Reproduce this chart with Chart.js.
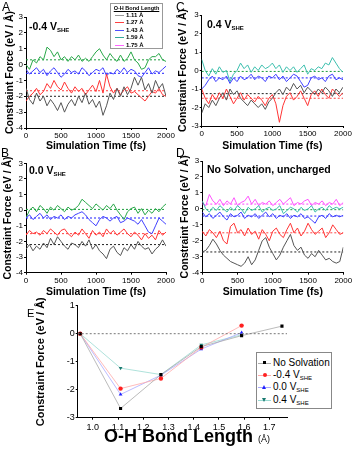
<!DOCTYPE html>
<html>
<head>
<meta charset="utf-8">
<script src="https://cdn.jsdelivr.net/npm/chart.js@4.4.1/dist/chart.umd.min.js"></script>
<style>
  body { margin:0; width:354px; height:450px; background:#fff; position:relative; overflow:hidden;
         font-family:"Liberation Sans", Arial, sans-serif; color:#000; }
  canvas { position:absolute; }
  .txt { position:absolute; white-space:nowrap; line-height:1; }
  .letter { font-size:12px; }
  .tag { font-size:10.5px; font-weight:bold; }
  .tag sub, .leg sub { font-size:6px; vertical-align:-2px; }
  .box { position:absolute; border:1px solid #999; box-sizing:border-box; background:#fff; }
  .legA { font-size:6px; font-weight:bold; }
</style>
</head>
<body>
<canvas id="cA" width="175" height="152" style="left:0;top:0"></canvas>
<canvas id="cC" width="179" height="152" style="left:175px;top:0"></canvas>
<canvas id="cB" width="175" height="148" style="left:0;top:150px"></canvas>
<canvas id="cD" width="179" height="148" style="left:175px;top:150px"></canvas>
<canvas id="cE" width="334" height="154" style="left:20px;top:296px"></canvas>

<div class="txt letter" style="left:2px;top:1px">A</div>
<div class="txt letter" style="left:176px;top:1px">C</div>
<div class="txt letter" style="left:1px;top:147px">B</div>
<div class="txt letter" style="left:176px;top:147px">D</div>
<div class="txt" style="left:27px;top:308px;font-size:11px">E</div>

<div class="txt tag" style="left:29px;top:21px">-0.4 V<sub>SHE</sub></div>
<div class="txt tag" style="left:207px;top:19px">0.4 V<sub>SHE</sub></div>
<div class="txt tag" style="left:29px;top:165px">0.0 V<sub>SHE</sub></div>
<div class="txt tag" style="left:207px;top:164px">No Solvation, uncharged</div>

<div class="txt" style="left:104px;top:427px;font-size:18px;font-weight:bold">O-H Bond Length <span style="font-size:9px;font-weight:normal">(Å)</span></div>

<div id="legA" class="box" style="left:110px;top:3px;width:53px;height:46px"></div>
<div id="legE" class="box" style="left:256px;top:352px;width:76px;height:57px;border-color:#888"></div>

<script>
const FONT = "'Liberation Sans', Arial, sans-serif";

/* =========================
   DATA - time traces
========================= */
const time = [0,50,100,150,200,250,300,350,400,450,500,550,600,650,700,750,800,850,900,950,
  1000,1050,1100,1150,1200,1250,1300,1350,1400,1450,1500,1550,1600,1650,1700,1750,1800,1850,1900,1950,2000];
const timeTicks = [0,500,1000,1500,2000];
const forceTicks = [-4,-3,-2,-1,0,1,2,3];
const forceTicksC = [-3,-2,-1,0,1,2,3];

const bondLabels = ["1.11 Å","1.27 Å","1.43 Å","1.59 Å","1.75 Å"];

// A: -0.4 V
const a111 = [-1.5,-2.2,-2.5,-1.8,-2.3,-2.0,-2.6,-2.2,-2.5,-2.9,-2.4,-3.0,-2.5,-2.2,-2.6,-2.0,-2.4,-1.8,-2.5,-2.2,
  -2.7,-2.3,-3.2,-2.6,-1.8,-2.2,-1.5,-2.0,-1.4,-1.9,-1.5,-0.8,-1.3,-0.8,-1.6,-1.2,-1.8,-1.0,-1.5,-1.2,-2.0];
const a127 = [-2.3,-2.0,-1.8,-1.5,-1.9,-1.7,-1.2,-1.5,-1.0,-1.4,-1.6,-1.1,-1.5,-1.8,-1.4,-1.7,-1.5,-1.9,-1.6,-1.3,
  -1.7,-1.0,-1.8,-0.6,-1.4,-1.8,-1.5,-1.9,-1.6,-1.4,-1.8,-1.7,-1.9,-2.1,-2.3,-2.0,-1.7,-1.8,-1.5,-1.9,-2.0];
const a143 = [-0.3,-0.6,-0.4,-0.2,-0.5,-0.3,-0.7,-0.4,-0.2,-0.5,-0.8,-0.6,-0.3,-0.5,-0.4,-0.6,-0.2,-0.4,-0.7,-0.5,
  -0.3,-0.4,-0.2,-0.7,-0.5,-0.6,-0.3,-0.5,-0.2,-0.5,-0.3,-0.4,-0.7,-0.8,-0.5,-0.2,-0.6,-0.4,-0.5,-0.3,-0.1];
const a159 = [0.0,-0.3,0.3,0.1,0.5,0.3,1.1,0.9,0.5,0.8,0.3,0.5,0.2,0.5,0.3,0.6,0.2,0.4,0.2,0.5,
  0.8,1.0,0.6,0.3,0.7,0.4,0.2,0.6,0.2,0.4,0.8,0.3,0.1,-0.3,-0.2,0.3,0.5,0.5,0.7,0.3,0.2];
const meansA = [-2.0,-1.65,-0.55,0.3];

// B: 0.0 V
const b111 = [-2.5,-2.2,-2.6,-2.3,-2.5,-2.1,-2.4,-1.8,-2.2,-1.7,-2.0,-2.3,-2.5,-2.1,-2.2,-2.4,-2.0,-2.3,-1.9,-2.5,
  -2.2,-2.6,-2.8,-3.1,-2.5,-2.3,-2.7,-2.9,-2.4,-2.6,-2.2,-2.5,-2.0,-2.3,-2.5,-2.4,-2.8,-2.5,-2.3,-1.9,-2.3];
const b127 = [-1.6,-1.3,-1.5,-1.4,-1.6,-1.3,-1.5,-1.2,-1.4,-1.6,-1.3,-1.2,-1.5,-1.7,-1.4,-1.6,-1.2,-1.5,-1.8,-1.3,
  -1.6,-1.4,-1.7,-1.2,-1.5,-1.3,-1.6,-1.4,-1.2,-1.5,-1.7,-1.4,-1.6,-1.9,-1.5,-1.8,-1.6,-1.9,-1.3,-1.6,-1.4];
const b143 = [-0.5,-0.3,-0.6,-0.4,-0.2,-0.5,-0.3,-0.6,-0.4,-0.5,-0.3,-0.6,-0.4,-0.5,-0.3,-0.2,-0.1,-0.3,-0.6,-0.8,
  -1.0,-0.6,-0.4,-0.5,-0.7,-0.5,-0.4,-0.8,-0.7,-0.5,-0.6,-0.7,-0.9,-0.6,-1.0,-1.4,-1.5,-1.0,-0.5,-0.7,-0.9];
const b159 = [-0.5,0.0,0.2,-0.1,0.3,0.1,-0.2,0.2,0.0,0.3,0.1,-0.1,0.2,0.0,0.1,0.3,0.7,0.5,0.3,0.1,
  0.4,0.2,0.0,0.3,0.1,0.4,0.0,-0.3,-0.6,-0.1,0.1,0.2,-0.2,0.1,-0.3,0.0,-0.2,0.1,-0.1,0.2,0.4];
const meansB = [-2.2,-1.5,-0.5,0.05];

// C: 0.4 V
const c111 = [-2.3,-1.8,-2.0,-1.6,-1.9,-1.5,-1.2,-1.6,-1.0,-1.3,-1.1,-1.5,-1.7,-1.9,-1.6,-1.8,-2.0,-1.8,-2.1,-1.7,
  -1.5,-1.2,-1.0,-1.3,-0.9,-1.1,-0.7,-1.0,-0.8,-1.2,-0.9,-1.1,-1.3,-1.0,-1.2,-0.9,-1.1,-1.4,-1.0,-1.2,-0.9];
const c127 = [-1.0,-1.5,-1.8,-1.3,-1.6,-1.2,-1.5,-1.0,-1.4,-1.8,-1.5,-1.2,-1.6,-1.3,-1.5,-1.7,-1.4,-1.6,-1.9,-1.5,
  -1.3,-1.8,-2.8,-1.9,-1.4,-1.2,-1.6,-1.4,-1.1,-1.5,-1.9,-1.3,-1.1,-1.4,-1.0,-1.3,-1.5,-1.0,-1.2,-1.4,-1.2];
const c143 = [-1.0,-0.8,-0.5,-0.3,-0.6,-0.4,-0.5,-0.3,-0.7,-0.4,-0.6,-0.3,-0.5,-0.4,-0.2,-0.5,-0.3,-0.4,-0.6,-0.3,
  -0.4,-0.2,-0.5,-0.3,-0.6,-0.4,-0.2,-0.3,-0.6,-0.9,-0.8,-0.4,-0.3,-0.5,-0.4,-0.6,-0.3,-0.2,-0.5,-0.4,-0.5];
const c159 = [0.6,0.0,-0.3,0.1,-0.2,0.2,-0.1,0.0,-0.6,-0.2,0.0,0.4,0.1,0.3,-0.1,0.2,0.0,0.3,0.1,0.2,
  0.4,0.1,0.3,-0.1,0.2,0.0,0.2,-0.1,0.1,0.3,-0.2,0.1,0.0,0.2,0.1,0.4,0.3,0.7,0.4,0.1,-0.1];
const meansC = [-1.25,-1.5,-0.4,-0.05];

// D: no solvation
const d111 = [-2.7,-2.6,-2.3,-1.9,-2.2,-2.6,-2.9,-3.1,-3.3,-3.4,-3.5,-3.6,-3.4,-3.0,-3.5,-3.2,-2.6,-2.0,-1.8,-2.4,
  -2.8,-3.2,-2.9,-2.4,-2.0,-1.6,-2.3,-2.6,-2.4,-2.9,-3.1,-2.8,-3.0,-2.6,-2.9,-3.2,-3.1,-3.3,-3.4,-3.3,-2.4];
const d127 = [-1.4,-1.7,-1.3,-1.5,-1.8,-1.4,-2.0,-2.2,-1.1,-0.9,-1.5,-1.3,-1.7,-1.2,-1.6,-1.4,-1.9,-1.3,-1.6,-2.0,
  -1.4,-1.2,-1.6,-1.8,-1.3,-0.9,-1.5,-1.2,-1.7,-1.4,-0.9,-1.3,-1.6,-1.4,-1.2,-1.8,-1.5,-1.0,-1.3,-1.6,-1.5];
const d143 = [-0.2,-0.5,-0.3,-0.6,-0.4,-0.2,-0.5,-0.7,-0.3,-0.5,-0.4,-0.2,-0.6,-0.4,-0.5,-0.3,-0.6,-0.4,-0.2,-0.5,
  -0.3,-0.6,-0.4,-0.5,-0.3,-0.6,-0.4,-0.5,-0.3,-0.6,-0.5,-0.7,-0.9,-0.5,-0.4,-0.6,-0.3,-0.5,-0.4,-0.5,-0.4];
const d159 = [0.5,0.0,-0.2,0.1,-0.1,0.2,0.0,-0.2,0.1,-0.1,0.2,0.0,-0.3,0.1,-0.1,0.0,0.2,-0.2,0.0,0.1,
  -0.1,0.0,0.2,-0.3,-0.1,0.1,0.0,-0.2,0.1,-0.1,0.0,0.2,-0.2,0.0,0.1,-0.1,0.2,0.0,0.1,0.0,0.1];
const d175 = [0.4,0.2,0.9,0.5,0.3,0.6,0.2,0.5,0.3,0.7,0.2,0.4,0.5,0.8,0.3,0.6,0.2,0.4,0.3,0.5,
  0.2,0.4,0.6,0.3,0.5,0.7,0.2,0.4,0.3,0.5,0.6,0.2,0.4,0.3,0.5,0.2,0.4,0.3,0.6,0.2,0.4];
const meansD = [-2.7,-1.5,-0.45,-0.05,0.3];

/* =========================
   DATA - panel E
========================= */
const bondLen = [0.95,1.11,1.27,1.43,1.59,1.75];
const eNoSolv = [0,-2.67,-1.46,-0.46,-0.07,0.27];
const eM04 = [0,-1.96,-1.60,-0.49,0.29];
const e00 = [0,-2.17,-1.48,-0.55,0.04];
const e04 = [0,-1.23,-1.46,-0.40,-0.04];
const bondTicks = [1.0,1.1,1.2,1.3,1.4,1.5,1.6,1.7];
const forceTicksE = [-3,-2,-1,0,1];
const eLabels = ["No Solvation","-0.4 V<sub>SHE</sub>","0.0 V<sub>SHE</sub>","0.4 V<sub>SHE</sub>"];

/* =========================
   COLOURS
========================= */
const lineCol = ["#555555","#ff3535","#4040ff","#2aa84a","#ff55ff"];
const lineColCD = ["#555555","#ff3535","#4040ff","#3cbfae","#ff55ff"];
const meanCol = ["#222222","#ff4040","#2020ff","#1e9e3e","#ff40ff"];
const legCol = ["#999999","#ff4040","#5050ff","#33aa99","#ff66ff"];

Chart.defaults.font.family = FONT;
Chart.defaults.color = "#000";

function pts(vals){
  return vals.map((v,i)=>({x:time[i], y:v}));
}

function fixTicks(list){
  return s => { s.ticks = list.map(v=>({value:v})); };
}

/* =========================
   TIME PANELS
========================= */
function timeChart(id, traces, cols, means, yTicks, box){
  const datasets = [];
  traces.forEach((t,i)=>{
    datasets.push({data:pts(t), borderColor:cols[i], borderWidth:1, pointRadius:0, tension:0});
  });
  means.forEach((m,i)=>{
    datasets.push({data:[{x:0,y:m},{x:2000,y:m}], borderColor:meanCol[i], borderWidth:1,
      borderDash:[2,2], pointRadius:0});
  });

  new Chart(document.getElementById(id),{
    type:"line",
    data:{datasets},
    options:{
      responsive:false, animation:false, devicePixelRatio:1,
      layout:{padding:{left:box.padL, top:box.padT, right:box.padR, bottom:0}},
      plugins:{legend:{display:false}, tooltip:{enabled:false}},
      scales:{
        x:{
          type:"linear", min:0, max:2000, bounds:"data",
          border:{color:"#000", width:1},
          grid:{drawOnChartArea:false, tickLength:2, tickColor:"#000"},
          ticks:{font:{size:8}, padding:1, maxRotation:0, autoSkip:false, callback:v=>String(v)},
          afterBuildTicks:fixTicks(timeTicks),
          afterFit:s=>{ s.height = box.xH; s.paddingLeft = 0; s.paddingRight = 0; },
          title:{display:true, text:"Simulation Time (fs)", font:{size:10.5, weight:"bold"}, padding:0}
        },
        y:{
          type:"linear", min:yTicks[0], max:yTicks[yTicks.length-1], bounds:"data",
          border:{color:"#000", width:1},
          grid:{drawOnChartArea:false, tickLength:2, tickColor:"#000"},
          ticks:{font:{size:8}, padding:1, autoSkip:false, callback:v=>String(v)},
          afterBuildTicks:fixTicks(yTicks),
          afterFit:s=>{ s.width = box.yW; s.paddingTop = 0; s.paddingBottom = 0; },
          title:{display:true, text:"Constraint Force (eV / Å)", font:{size:10.5, weight:"bold"}, padding:0}
        }
      }
    }
  });
}

timeChart("cA",[a111,a127,a143,a159],lineCol,meansA,forceTicks,{padL:4,yW:22,padT:17,padR:9,xH:24});
timeChart("cB",[b111,b127,b143,b159],lineCol,meansB,forceTicks,{padL:2,yW:24,padT:13.3,padR:9,xH:25.3});
timeChart("cC",[c111,c127,c143,c159],lineColCD,meansC,forceTicksC,{padL:2,yW:24.7,padT:15,padR:11,xH:26});
timeChart("cD",[d111,d127,d143,d159,d175],lineColCD,meansD,forceTicks,{padL:4,yW:23.3,padT:11,padR:10.7,xH:25.3});

/* =========================
   PANEL E
========================= */
const eStyle = [
  {mark:"rect", col:"#000000", line:"#aaaaaa", rot:0},
  {mark:"circle", col:"#ff2020", line:"#ffaaaa", rot:0},
  {mark:"triangle", col:"#2020ff", line:"#aaaaff", rot:0},
  {mark:"triangle", col:"#1a7a70", line:"#9adad2", rot:180}
];
const eSeries = [eNoSolv,eM04,e00,e04];

const eSets = [{
  data:[{x:0.94,y:0},{x:1.77,y:0}], borderColor:"#777", borderWidth:1, borderDash:[2,2], pointRadius:0
}];
eSeries.forEach((s,i)=>{
  eSets.push({
    data:s.map((v,j)=>({x:bondLen[j], y:v})),
    borderColor:eStyle[i].line, borderWidth:0.8,
    pointStyle:eStyle[i].mark, pointRotation:eStyle[i].rot,
    pointRadius:2.2, pointBackgroundColor:eStyle[i].col, pointBorderColor:eStyle[i].col, pointBorderWidth:0
  });
});

new Chart(document.getElementById("cE"),{
  type:"line",
  data:{datasets:eSets},
  options:{
    responsive:false, animation:false, devicePixelRatio:1,
    layout:{padding:{left:14, top:9.7, right:67, bottom:0}},
    plugins:{legend:{display:false}, tooltip:{enabled:false}},
    scales:{
      x:{
        type:"linear", min:0.94, max:1.77, bounds:"data",
        border:{color:"#000", width:1},
        grid:{drawOnChartArea:false, tickLength:2, tickColor:"#000"},
        ticks:{font:{size:9}, padding:2, maxRotation:0, autoSkip:false, callback:v=>v.toFixed(1)},
        afterBuildTicks:fixTicks(bondTicks),
        afterFit:s=>{ s.height = 32.3; s.paddingLeft = 0; s.paddingRight = 0; }
      },
      y:{
        type:"linear", min:-3, max:1, bounds:"data",
        border:{color:"#000", width:1},
        grid:{drawOnChartArea:false, tickLength:2, tickColor:"#000"},
        ticks:{font:{size:9}, padding:1, autoSkip:false, callback:v=>String(v)},
        afterBuildTicks:fixTicks(forceTicksE),
        afterFit:s=>{ s.width = 43.7; s.paddingTop = 0; s.paddingBottom = 0; },
        title:{display:true, text:"Constraint Force (eV / Å)", font:{size:11, weight:"bold"}, padding:0}
      }
    }
  }
});

/* =========================
   LEGENDS
========================= */
function legendA(){
  const div = document.getElementById("legA");
  let html = `<div class="txt legA" style="left:0;width:51px;top:2px;text-align:center;font-size:5.5px;text-decoration:underline">O-H Bond Length</div>`;
  bondLabels.forEach((l,i)=>{
    const y = 11 + i*7.4;
    html += `<div style="position:absolute;left:4px;top:${y}px;width:9px;height:1px;background:${legCol[i]}"></div>
      <div class="txt legA" style="left:15px;top:${y-3}px">${l}</div>`;
  });
  div.innerHTML = html;
}

function legendE(){
  const div = document.getElementById("legE");
  let html = "";
  eLabels.forEach((l,i)=>{
    const y = 9.5 + i*12.4;
    const st = eStyle[i];
    let mk;
    if(st.mark==="rect") mk = `width:3px;height:3px;background:${st.col};left:6px;top:${y-1.5}px`;
    else if(st.mark==="circle") mk = `width:4px;height:4px;border-radius:50%;background:${st.col};left:5.5px;top:${y-2}px`;
    else if(st.rot===0) mk = `width:0;height:0;border-left:2.5px solid transparent;border-right:2.5px solid transparent;border-bottom:4px solid ${st.col};left:5px;top:${y-2.5}px`;
    else mk = `width:0;height:0;border-left:2.5px solid transparent;border-right:2.5px solid transparent;border-top:4px solid ${st.col};left:5px;top:${y-1.5}px`;
    html += `<div style="position:absolute;left:1px;top:${y}px;width:13px;height:1px;background:${st.line}"></div>
      <div style="position:absolute;${mk}"></div>
      <div class="txt leg" style="left:16px;top:${y-5}px;font-size:10px">${l}</div>`;
  });
  div.innerHTML = html;
}

legendA();
legendE();
</script>
</body>
</html>
